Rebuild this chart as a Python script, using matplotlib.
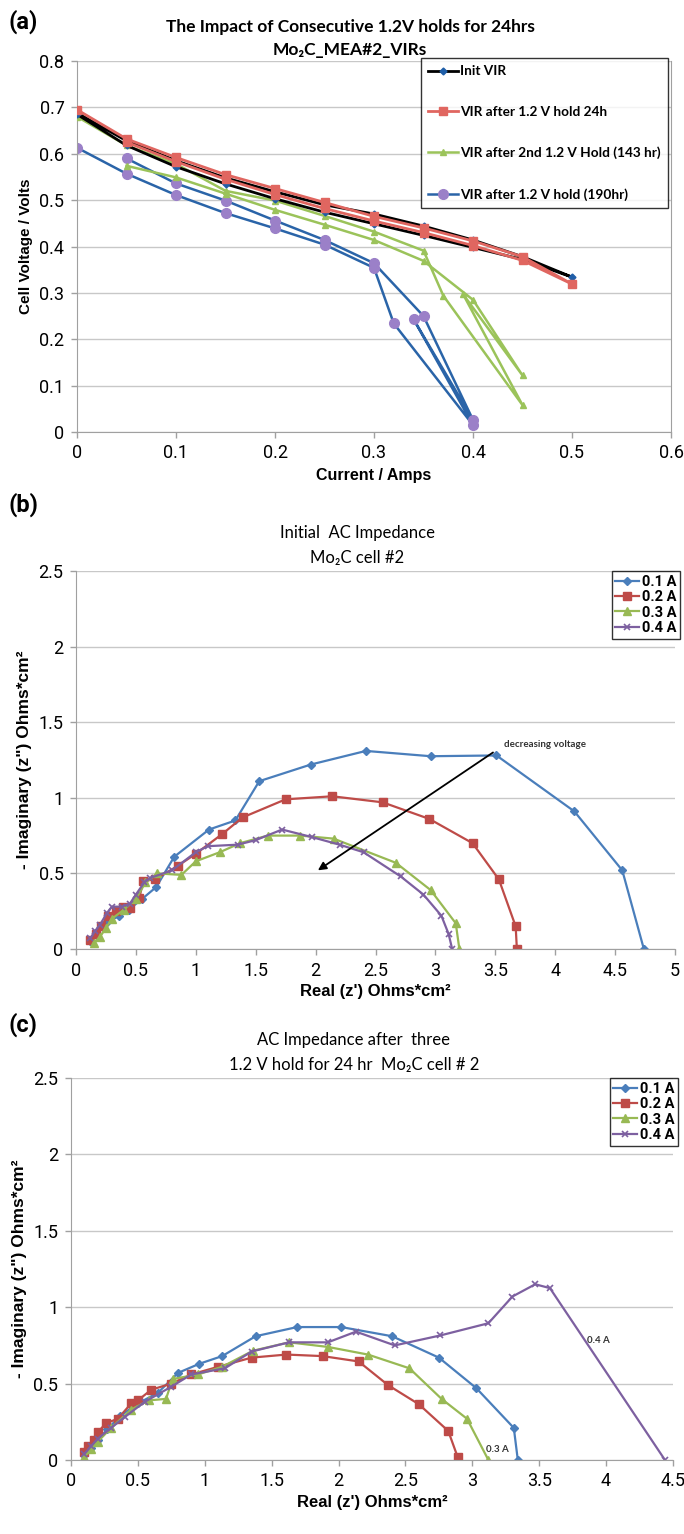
import matplotlib
matplotlib.use("Agg")
import matplotlib.pyplot as plt

# ---------------- panel (a) data : VIR curves ----------------
init_i = [0, 0.05, 0.1, 0.15, 0.2, 0.25, 0.3, 0.35, 0.4, 0.45, 0.5,
          0.45, 0.4, 0.35, 0.3, 0.25, 0.2, 0.15, 0.1, 0.05, 0]
init_v = [0.685, 0.618, 0.572, 0.535, 0.503, 0.474, 0.449, 0.424, 0.398, 0.372, 0.334,
          0.378, 0.414, 0.444, 0.470, 0.490, 0.518, 0.548, 0.585, 0.628, 0.688]

h24_i = [0, 0.05, 0.1, 0.15, 0.2, 0.25, 0.3, 0.35, 0.4, 0.45, 0.5,
         0.45, 0.4, 0.35, 0.3, 0.25, 0.2, 0.15, 0.1, 0.05]
h24_v = [0.695, 0.632, 0.592, 0.555, 0.525, 0.495, 0.465, 0.440, 0.412, 0.378, 0.319,
         0.370, 0.402, 0.430, 0.455, 0.482, 0.512, 0.545, 0.583, 0.625]

h143_i = [0, 0.05, 0.1, 0.15, 0.2, 0.25, 0.3, 0.35, 0.37, 0.45, 0.39, 0.45, 0.4,
          0.35, 0.3, 0.25, 0.2, 0.15, 0.1, 0.05]
h143_v = [0.680, 0.618, 0.578, 0.520, 0.499, 0.466, 0.432, 0.391, 0.294, 0.058, 0.297, 0.122, 0.285,
          0.369, 0.414, 0.447, 0.479, 0.514, 0.549, 0.574]

h190_i = [0, 0.05, 0.1, 0.15, 0.2, 0.25, 0.3, 0.32, 0.4, 0.34, 0.4, 0.35,
          0.3, 0.25, 0.2, 0.15, 0.1, 0.05]
h190_v = [0.613, 0.557, 0.511, 0.472, 0.439, 0.404, 0.354, 0.234, 0.015, 0.243, 0.026, 0.250,
          0.364, 0.414, 0.456, 0.499, 0.536, 0.590]

# ---------------- panel (b) data : initial impedance ----------------
b1_re = [0.12, 0.17, 0.25, 0.36, 0.44, 0.55, 0.67, 0.82, 1.11, 1.33, 1.53, 1.96, 2.42, 2.96, 3.51, 4.16, 4.56, 4.74]
b1_im = [0.05, 0.10, 0.17, 0.22, 0.26, 0.33, 0.41, 0.61, 0.79, 0.85, 1.11, 1.22, 1.31, 1.275, 1.28, 0.91, 0.52, 0.0]
b2_re = [0.12, 0.17, 0.21, 0.27, 0.33, 0.39, 0.45, 0.53, 0.56, 0.66, 0.85, 1.0, 1.22, 1.39, 1.75, 2.14, 2.56, 2.95, 3.31, 3.53, 3.67, 3.68]
b2_im = [0.06, 0.10, 0.15, 0.22, 0.25, 0.28, 0.27, 0.34, 0.45, 0.46, 0.55, 0.63, 0.76, 0.87, 0.99, 1.01, 0.97, 0.86, 0.70, 0.46, 0.15, 0.0]
b3_re = [0.15, 0.2, 0.25, 0.3, 0.4, 0.5, 0.58, 0.68, 0.88, 1.0, 1.2, 1.37, 1.6, 1.87, 2.15, 2.67, 2.96, 3.17, 3.2]
b3_im = [0.04, 0.08, 0.14, 0.20, 0.26, 0.33, 0.44, 0.50, 0.49, 0.58, 0.64, 0.70, 0.75, 0.75, 0.73, 0.57, 0.39, 0.17, 0.0]
b4_re = [0.12, 0.16, 0.2, 0.26, 0.3, 0.38, 0.45, 0.5, 0.57, 0.62, 0.8, 1.0, 1.1, 1.35, 1.5, 1.72, 1.97, 2.2, 2.4, 2.71, 2.9, 3.05, 3.11, 3.14]
b4_im = [0.07, 0.12, 0.16, 0.24, 0.28, 0.28, 0.30, 0.36, 0.44, 0.47, 0.52, 0.64, 0.68, 0.69, 0.72, 0.79, 0.74, 0.69, 0.64, 0.48, 0.36, 0.22, 0.10, 0.0]

# ---------------- panel (c) data : after three 1.2 V holds ----------------
c1_re = [0.1, 0.15, 0.2, 0.27, 0.37, 0.5, 0.65, 0.8, 0.96, 1.13, 1.38, 1.69, 2.02, 2.4, 2.75, 3.03, 3.31, 3.34]
c1_im = [0.03, 0.08, 0.13, 0.20, 0.29, 0.37, 0.44, 0.57, 0.63, 0.68, 0.81, 0.87, 0.87, 0.81, 0.67, 0.47, 0.21, 0.0]
c2_re = [0.1, 0.13, 0.17, 0.2, 0.26, 0.35, 0.45, 0.5, 0.6, 0.75, 0.9, 1.1, 1.35, 1.61, 1.88, 2.15, 2.37, 2.6, 2.82, 2.89]
c2_im = [0.05, 0.09, 0.13, 0.18, 0.24, 0.27, 0.37, 0.39, 0.46, 0.50, 0.56, 0.61, 0.67, 0.69, 0.68, 0.645, 0.49, 0.365, 0.19, 0.02]
c3_re = [0.1, 0.15, 0.2, 0.3, 0.45, 0.58, 0.71, 0.76, 0.95, 1.13, 1.36, 1.63, 1.92, 2.22, 2.53, 2.77, 2.96, 3.12]
c3_im = [0.02, 0.07, 0.12, 0.21, 0.33, 0.39, 0.40, 0.53, 0.56, 0.61, 0.715, 0.77, 0.74, 0.69, 0.60, 0.40, 0.27, 0.0]
c4_re = [0.1, 0.15, 0.2, 0.3, 0.4, 0.55, 0.75, 0.9, 1.15, 1.35, 1.63, 1.92, 2.13, 2.42, 2.76, 3.12, 3.3, 3.47, 3.58, 4.44]
c4_im = [0.04, 0.09, 0.14, 0.21, 0.28, 0.38, 0.48, 0.56, 0.60, 0.71, 0.77, 0.77, 0.84, 0.75, 0.815, 0.895, 1.07, 1.15, 1.125, 0.0]

amp_labels = ['0.1 A', '0.2 A', '0.3 A', '0.4 A']

NARROW = ['Liberation Sans Narrow', 'Roboto', 'DejaVu Sans']
BOLD = ['Liberation Sans', 'DejaVu Sans']
TITLE = ['Lato', 'DejaVu Sans']
GRID = '#c8c8c8'

W, H = 684, 1534
fig = plt.figure(figsize=(W / 100, H / 100), dpi=100)


def box(l, r, t, b):
    return [l / W, 1 - b / H, (r - l) / W, (b - t) / H]


def style(ax):
    ax.grid(axis='y', color=GRID, lw=1.0)
    ax.set_axisbelow(True)
    for s in ['left', 'bottom']:
        ax.spines[s].set_color('#a0a0a0')
    ax.spines['top'].set_visible(False)
    ax.spines['right'].set_visible(False)
    ax.tick_params(direction='out', length=4, color='#a0a0a0', width=1, labelsize=13, pad=5)
    for lab in ax.get_xticklabels() + ax.get_yticklabels():
        lab.set_family(NARROW)


# ---------------- (a) ----------------
ax = fig.add_axes(box(77, 671, 61, 432))
ax.plot(h190_i, h190_v, '-o', color='#2a64a8', mfc='#9b80c8', mec='#9b80c8', ms=7, lw=1.8,
        label='VIR after 1.2 V hold (190hr)', zorder=2)
ax.plot(h143_i, h143_v, '-^', color='#9bc35a', mfc='#9bc35a', mec='#9bc35a', ms=5, lw=1.8,
        label='VIR after 2nd 1.2 V Hold (143 hr)', zorder=3)
ax.plot(init_i, init_v, '-D', color='black', mfc='#1f5ea8', mec='#1f5ea8', ms=3.5, lw=2.0,
        label='Init VIR', zorder=4)
ax.plot(h24_i, h24_v, '-s', color='#e06660', mfc='#e06660', mec='#e06660', ms=5.5, lw=2.0,
        label='VIR after 1.2 V hold 24h', zorder=5)
ax.set_xlim(0, 0.6)
ax.set_ylim(0, 0.8)
ax.set_xticks([0, 0.1, 0.2, 0.3, 0.4, 0.5, 0.6])
ax.set_xticklabels(['0', '0.1', '0.2', '0.3', '0.4', '0.5', '0.6'])
ax.set_yticks([0, 0.1, 0.2, 0.3, 0.4, 0.5, 0.6, 0.7, 0.8])
ax.set_yticklabels(['0', '0.1', '0.2', '0.3', '0.4', '0.5', '0.6', '0.7', '0.8'])
style(ax)
ax.spines['right'].set_visible(True)
ax.spines['right'].set_color('#a0a0a0')
ax.set_xlabel('Current / Amps', family=BOLD, weight='bold', fontsize=11.5, labelpad=4)
ax.set_ylabel('Cell Voltage / Volts', family=BOLD, weight='bold', fontsize=11, labelpad=5)
ax.set_title('The Impact of Consecutive 1.2V holds for 24hrs\nMo\u2082C_MEA#2_VIRs',
             family=TITLE, weight='bold', fontsize=12.5, pad=4, x=0.46, linespacing=1.55)
h, l = ax.get_legend_handles_labels()
order = [2, 3, 1, 0]
leg = ax.legend([h[i] for i in order], [l[i] for i in order], loc='upper left',
                bbox_to_anchor=(421 / W, 1 - 58 / H), bbox_transform=fig.transFigure,
                prop={'family': TITLE, 'size': 9.8, 'weight': 'bold'}, frameon=True, fancybox=False,
                edgecolor='black', labelspacing=2.1, handlelength=2.2, handletextpad=0.1,
                borderpad=0.55, borderaxespad=0)
leg.get_frame().set_linewidth(1.0)
leg.set_zorder(10)
fig.text(8 / W, 1 - 22 / H, '(a)', family=NARROW, weight='bold', fontsize=17, va='center')

# ---------------- (b) and (c) ----------------
imp_styles = [dict(color='#4a7ebb', marker='D', ms=4),
              dict(color='#be4b48', marker='s', ms=6),
              dict(color='#98b954', marker='^', ms=5.5),
              dict(color='#7d60a0', marker='x', ms=5, mew=1.2)]


def impedance(axb, series, xmax, xticks, xticklabels):
    for (re, im), st, lab in zip(series, imp_styles, amp_labels):
        axb.plot(re, im, lw=1.6, label=lab, **st)
    axb.set_xlim(0, xmax)
    axb.set_ylim(0, 2.5)
    axb.set_xticks(xticks)
    axb.set_xticklabels(xticklabels)
    axb.set_yticks([0, 0.5, 1, 1.5, 2, 2.5])
    axb.set_yticklabels(['0', '0.5', '1', '1.5', '2', '2.5'])
    style(axb)
    axb.set_xlabel("Real (z') Ohms*cm\u00b2", family=BOLD, weight='bold', fontsize=12, labelpad=3)
    axb.set_ylabel('- Imaginary (z") Ohms*cm\u00b2', family=BOLD, weight='bold', fontsize=12.5, labelpad=5)
    lg = axb.legend(loc='upper right', bbox_to_anchor=(1.008, 1.0),
                    prop={'family': NARROW, 'size': 10.5, 'weight': 'bold'}, frameon=True,
                    fancybox=False, edgecolor='black', labelspacing=0.1, handlelength=1.6,
                    handletextpad=0.2, borderpad=0.25, borderaxespad=0)
    lg.get_frame().set_linewidth(1.0)


ax_b = fig.add_axes(box(76, 675, 571, 949))
impedance(ax_b, [(b1_re, b1_im), (b2_re, b2_im), (b3_re, b3_im), (b4_re, b4_im)], 5,
          [0, 0.5, 1, 1.5, 2, 2.5, 3, 3.5, 4, 4.5, 5],
          ['0', '0.5', '1', '1.5', '2', '2.5', '3', '3.5', '4', '4.5', '5'])
ax_b.set_title('Initial  AC Impedance\nMo\u2082C cell #2', family=TITLE, fontsize=12, pad=6,
               x=0.47, linespacing=1.65)
ax_b.annotate('', xy=(2.0, 0.51), xytext=(3.5, 1.31),
              arrowprops=dict(arrowstyle='-|>', color='black', lw=1.3, mutation_scale=12))
ax_b.text(3.57, 1.335, 'decreasing voltage', family=TITLE, fontsize=7, weight='bold', color='#333333')
fig.text(8 / W, 1 - 505 / H, '(b)', family=NARROW, weight='bold', fontsize=17, va='center')

ax_c = fig.add_axes(box(71, 673, 1078, 1460))
impedance(ax_c, [(c1_re, c1_im), (c2_re, c2_im), (c3_re, c3_im), (c4_re, c4_im)], 4.5,
          [0, 0.5, 1, 1.5, 2, 2.5, 3, 3.5, 4, 4.5],
          ['0', '0.5', '1', '1.5', '2', '2.5', '3', '3.5', '4', '4.5'])
ax_c.set_title('AC Impedance after  three\n1.2 V hold for 24 hr  Mo\u2082C cell # 2', family=TITLE,
               fontsize=12, pad=6, x=0.47, linespacing=1.65)
ax_c.text(3.86, 0.78, '0.4 A', family=TITLE, fontsize=7, weight='bold', color='#333333', va='center')
ax_c.text(3.1, 0.07, '0.3 A', family=TITLE, fontsize=7, weight='bold', color='#333333', va='center')
fig.text(8 / W, 1 - 1025 / H, '(c)', family=NARROW, weight='bold', fontsize=17, va='center')

fig.savefig('out.png', dpi=100)
